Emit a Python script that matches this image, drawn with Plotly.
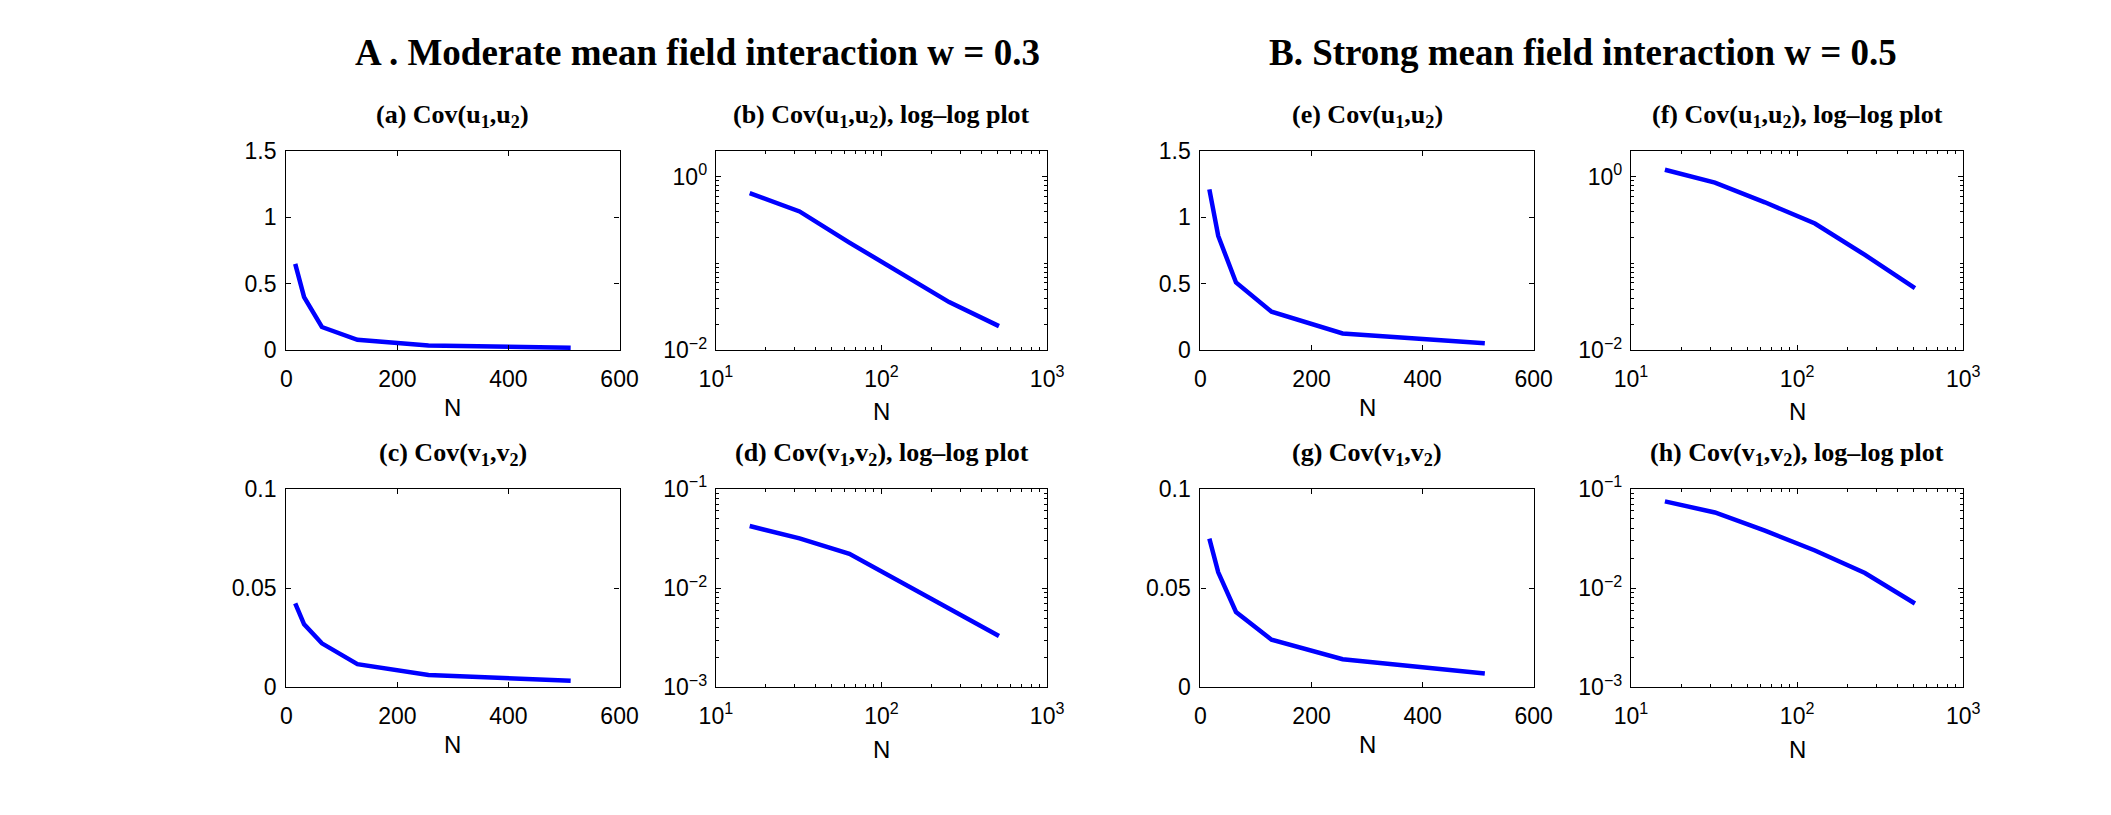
import plotly.graph_objects as go
import math

# ---- data ----
N = [16, 32, 64, 128, 256, 512]
cov_u_w03 = [0.65, 0.40, 0.175, 0.079, 0.036, 0.019]
cov_v_w03 = [0.0423, 0.0318, 0.0222, 0.0117, 0.0063, 0.0033]
cov_u_w05 = [1.21, 0.86, 0.51, 0.29, 0.126, 0.052]
cov_v_w05 = [0.075, 0.058, 0.038, 0.024, 0.0142, 0.007]

main_titles = ["A . Moderate mean field interaction w = 0.3",
               "B. Strong mean field interaction w = 0.5"]
sub_titles = ["(a) Cov(u<sub>1</sub>,u<sub>2</sub>)",
              "(b) Cov(u<sub>1</sub>,u<sub>2</sub>), log\u2013log plot",
              "(e) Cov(u<sub>1</sub>,u<sub>2</sub>)",
              "(f) Cov(u<sub>1</sub>,u<sub>2</sub>), log\u2013log plot",
              "(c) Cov(v<sub>1</sub>,v<sub>2</sub>)",
              "(d) Cov(v<sub>1</sub>,v<sub>2</sub>), log\u2013log plot",
              "(g) Cov(v<sub>1</sub>,v<sub>2</sub>)",
              "(h) Cov(v<sub>1</sub>,v<sub>2</sub>), log\u2013log plot"]

lin_x_ticks = [0, 200, 400, 600]
lin_y_ticks_u = [0, 0.5, 1, 1.5]
lin_y_ticks_v = [0, 0.05, 0.1]
log_x_vals = [10, 100, 1000]
log_x_text = ["10<sup>1</sup>", "10<sup>2</sup>", "10<sup>3</sup>"]
log_y_vals_u = [0.01, 1]
log_y_text_u = ["10<sup>\u22122</sup>", "10<sup>0</sup>"]
log_y_vals_v = [0.001, 0.01, 0.1]
log_y_text_v = ["10<sup>\u22123</sup>", "10<sup>\u22122</sup>", "10<sup>\u22121</sup>"]

W, H = 2111, 815
col_px = [(274, 613), (711, 1048), (1204, 1543), (1642, 1980)]
row_px = [(139, 346), (490, 696)]

panels = [
    (cov_u_w03, False, 0, 0), (cov_u_w03, True, 0, 1),
    (cov_u_w05, False, 0, 2), (cov_u_w05, True, 0, 3),
    (cov_v_w03, False, 1, 0), (cov_v_w03, True, 1, 1),
    (cov_v_w05, False, 1, 2), (cov_v_w05, True, 1, 3),
]

fig = go.Figure()
tick_font = dict(family="Liberation Sans, Arial, sans-serif", size=23, color="black")
title_font = dict(family="Liberation Serif, Times New Roman, serif", size=26, color="black")

for i, (ser, is_log, r, c) in enumerate(panels):
    k = i + 1
    xa = "x" if k == 1 else f"x{k}"
    ya = "y" if k == 1 else f"y{k}"
    fig.add_trace(go.Scatter(x=N, y=ser, mode="lines", xaxis=xa, yaxis=ya,
                             line=dict(color="rgb(0,0,255)", width=4.5),
                             showlegend=False, hoverinfo="skip"))
    x0, x1 = col_px[c]
    y0, y1 = row_px[r]
    xdom = [x0 / W, x1 / W]
    ydom = [1 - y1 / H, 1 - y0 / H]
    common = dict(showgrid=False, zeroline=False, showline=True, linecolor="black",
                  linewidth=1.3, mirror="ticks", ticks="inside", ticklen=5,
                  tickcolor="black", tickwidth=1, tickfont=tick_font)
    is_u = (r == 0)
    if is_log:
        xax = dict(common, type="log", range=[1, 3], tickmode="array",
                   tickvals=log_x_vals, ticktext=log_x_text,
                   minor=dict(ticks="inside", ticklen=3, dtick="D1",
                              tickcolor="black", showgrid=False),
                   ticklabelstandoff=8)
        if is_u:
            yax = dict(common, type="log", range=[-2, math.log10(2)], tickmode="array",
                       tickvals=log_y_vals_u, ticktext=log_y_text_u)
        else:
            yax = dict(common, type="log", range=[-3, -1], tickmode="array",
                       tickvals=log_y_vals_v, ticktext=log_y_text_v)
        yax["minor"] = dict(ticks="inside", ticklen=3, dtick="D1",
                            tickcolor="black", showgrid=False)
        yax["ticklabelstandoff"] = 3
    else:
        xax = dict(common, range=[0, 600], tickmode="array", tickvals=lin_x_ticks,
                   ticklabelstandoff=8)
        if is_u:
            yax = dict(common, range=[0, 1.5], tickmode="array", tickvals=lin_y_ticks_u)
        else:
            yax = dict(common, range=[0, 0.1], tickmode="array", tickvals=lin_y_ticks_v)
        yax["ticklabelstandoff"] = 4
    xax.update(domain=xdom, anchor=ya)
    yax.update(domain=ydom, anchor=xa)
    fig.update_layout({("xaxis" if k == 1 else f"xaxis{k}"): xax,
                       ("yaxis" if k == 1 else f"yaxis{k}"): yax})

    # subplot title
    fig.add_annotation(text="<b>" + sub_titles[i] + "</b>", xref="paper", yref="paper",
                       x=(xdom[0] + xdom[1]) / 2, y=1 - (y0 - 36) / H,
                       xanchor="center", yanchor="middle", showarrow=False,
                       font=title_font)
    # x label
    ny = y1 + (64 if is_log else 59)
    fig.add_annotation(text="N", xref="paper", yref="paper",
                       x=(xdom[0] + xdom[1]) / 2, y=1 - ny / H,
                       xanchor="center", yanchor="middle", showarrow=False,
                       font=dict(family="Liberation Sans, Arial, sans-serif", size=24, color="black"))

# main titles
fig.add_annotation(text="<b>" + main_titles[0] + "</b>", xref="paper", yref="paper",
                   x=692 / W, y=1 - 37 / H, xanchor="center", yanchor="middle",
                   showarrow=False,
                   font=dict(family="Liberation Serif, Times New Roman, serif", size=37, color="black"))
fig.add_annotation(text="<b>" + main_titles[1] + "</b>", xref="paper", yref="paper",
                   x=1593 / W, y=1 - 37 / H, xanchor="center", yanchor="middle",
                   showarrow=False,
                   font=dict(family="Liberation Serif, Times New Roman, serif", size=37, color="black"))

fig.update_layout(width=W, height=H, margin=dict(l=0, r=0, t=0, b=0),
                  paper_bgcolor="white", plot_bgcolor="white")

fig.write_html("out.html")
